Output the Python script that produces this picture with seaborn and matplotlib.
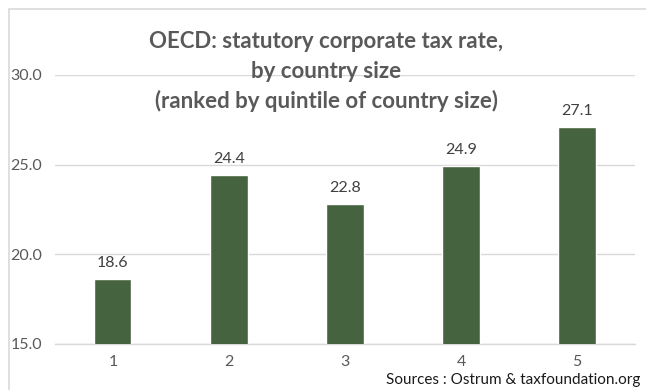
import matplotlib
matplotlib.use("Agg")
import matplotlib.pyplot as plt
import seaborn as sns
import pandas as pd
from matplotlib.patches import Rectangle

quintiles = ["1", "2", "3", "4", "5"]
tax_rates = [18.6, 24.4, 22.8, 24.9, 27.1]
y_ticks = [15.0, 20.0, 25.0, 30.0]

title_lines = ["OECD: statutory corporate tax rate,",
               "by country size",
               "(ranked by quintile of country size)"]
source_text = "Sources : Ostrum & taxfoundation.org"

sns.set_theme(style="white")
plt.rcParams["font.family"] = ["Lato", "DejaVu Sans"]

df = pd.DataFrame({"quintile": quintiles, "rate": tax_rates})

fig = plt.figure(figsize=(6.46, 3.90), dpi=100)
ax = fig.add_axes([0.085, 0.118, 0.898, 0.690])

sns.barplot(data=df, x="quintile", y="rate", color="#46633f",
            saturation=1, width=0.32, ax=ax, zorder=3)

ax.set_ylim(15, 30)
ax.set_yticks(y_ticks)
ax.set_yticklabels([f"{v:.1f}" for v in y_ticks])
ax.yaxis.grid(True, color="#d9d9d9", linewidth=1.0, zorder=0)
ax.set_axisbelow(True)
for side in ["top", "right", "left"]:
    ax.spines[side].set_visible(False)
ax.spines["bottom"].set_color("#d9d9d9")
ax.spines["bottom"].set_linewidth(1.0)
ax.set_xlabel("")
ax.set_ylabel("")
ax.tick_params(axis="both", length=0, labelsize=11.5, labelcolor="#595959")
ax.tick_params(axis="x", pad=8)
ax.tick_params(axis="y", pad=9)

for i, v in enumerate(tax_rates):
    ax.text(i, v + 0.5, f"{v:.1f}", ha="center", va="bottom",
            fontsize=11.5, color="#404040")

for k, line in enumerate(title_lines):
    fig.text(0.505, 1 - (42 + 29.5 * k) / 390, line, ha="center", va="center",
             fontsize=16, fontweight="bold", color="#595959")

fig.text(0.992, 1 - 380 / 390, source_text, ha="right", va="center",
         fontsize=11, color="#1a1a1a")

# chart-area frame
fig.patches.append(Rectangle((9 / 646, -0.1), 1.2, (390 - 9) / 390 + 0.1,
                             transform=fig.transFigure, fill=False,
                             edgecolor="#d9d9d9", linewidth=1.2))

fig.savefig("out.png", dpi=100)
